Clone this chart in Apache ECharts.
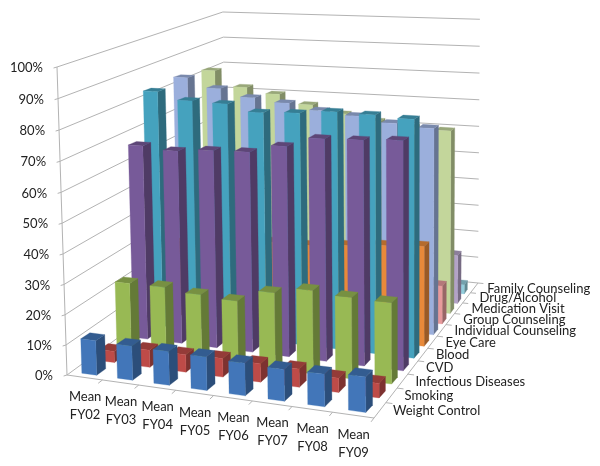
<!DOCTYPE html>
<html><head><meta charset="utf-8">
<style>html,body{margin:0;padding:0;background:#fff}#c{width:600px;height:466px}</style>
<script src="https://cdn.jsdelivr.net/npm/echarts@6/dist/echarts.min.js"></script>
</head><body><div id="c"></div>
<script>
const categories = ["Mean\nFY02","Mean\nFY03","Mean\nFY04","Mean\nFY05","Mean\nFY06","Mean\nFY07","Mean\nFY08","Mean\nFY09"];
const yTicks = [0,10,20,30,40,50,60,70,80,90,100];
const weightControl = [11.5,11.2,11,10.8,10.4,10,10.2,11];
const smoking = [3.8,5.8,5.8,6.1,6,5.9,4.6,4.6];
const infectiousDiseases = [23.2,23.2,22,21.2,25.3,27.4,26.4,26.1];
const cvd = [67.5,66.5,67.5,67.8,70.5,73.8,74.1,74.8];
const blood = [84,81.4,81,78.7,79.2,80.3,80,79.3];
const eyeCare = [27.5,28.6,29.8,31,31,32.2,33.4,34.3];
const individualCounseling = [85,81.7,79,77.7,75.7,74.5,72.7,71.7];
const groupCounseling = [13.6,13.6,13.1,13.1,13.1,13.6,13.6,13.6];
const medicationVisit = [83.9,78.2,76.2,72.9,70.2,68.2,66.7,66.2];
const drugAlcohol = [18,18,18,18,18,18,18,18];
const familyCounseling = [3.4,3.4,3.4,3.4,3.4,3.4,3.4,3.4];
const seriesNames = ["Weight Control","Smoking","Infectious Diseases","CVD","Blood","Eye Care","Individual Counseling","Group Counseling","Medication Visit","Drug/Alcohol","Family Counseling"];
const seriesValues = [weightControl,smoking,infectiousDiseases,cvd,blood,eyeCare,individualCounseling,groupCounseling,medicationVisit,drugAlcohol,familyCounseling];
const seriesColors = ["#4276B9","#BE4B48","#98B954","#775A99","#45A2BE","#E8893A","#9BAFDC","#E79A9C","#C3D69B","#B3A2C7","#92CDDC"];

// Camera calibration: where the corners of the 3D box land on the page.
const cam = {A:[67,375],B:[374,418],C:[478,283],D:[227,258],Atop:[57,67],Ctop:[488,22],Dtop:[226,10]};
const proj = (function(){
  const [x0,y0]=cam.A,[x1,y1]=cam.B,[x2,y2]=cam.C,[x3,y3]=cam.D;
  const dx1=x1-x2,dx2=x3-x2,sx=x0-x1+x2-x3,dy1=y1-y2,dy2=y3-y2,sy=y0-y1+y2-y3;
  const den=dx1*dy2-dx2*dy1;
  const g=(sx*dy2-dx2*sy)/den,h=(dx1*sy-sx*dy1)/den;
  const a=x1-x0+g*x1,b=x3-x0+h*x3,d=y1-y0+g*y1,e=y3-y0+h*y3;
  const fl=(u,v)=>[a*u+b*v+x0,d*u+e*v+y0,g*u+h*v+1];
  const C=fl(1,1),D=fl(0,1);
  const [ax,ay]=cam.Atop;
  const eqs=[[ay-cam.Ctop[1],cam.Ctop[1]*C[2]-C[1]-ay+y0],[ay-cam.Dtop[1],cam.Dtop[1]*D[2]-D[1]-ay+y0]];
  let n=0,m=0;eqs.forEach(q=>{n+=q[0]*q[1];m+=q[0]*q[0];});
  const w3=n/m,a3=ax*(1+w3)-x0,b3=ay*(1+w3)-y0;
  return (u,v,z)=>{const f=fl(u,v),W=f[2]+w3*z;return [(f[0]+a3*z)/W,(f[1]+b3*z)/W];};
})();
const P=proj;
// The bars stand on a floor that sits slightly inside the drawn walls (wall thickness).
const PB=(u,v,z)=>{const p=P(u,v,z);
  return [p[0]+4.5*v*(1-u)+u*(0.5+18*v*(1-v)),p[1]+5*v];};
const GRID={left:0,top:0,width:600,height:466};
const unitU=(api,c)=>(api.coord([c,0])[0]-GRID.left)/GRID.width;
const unitZ=(api,val)=>1-(api.coord([0,val])[1]-GRID.top)/GRID.height;
const rows=seriesNames.length,cats=categories.length;
const FONT='13px Lato, "Open Sans", sans-serif';
const LINE='#b3b3b3';
const BAR_W=0.42,BAR_D=0.5;

function shade(hex,f){const n=parseInt(hex.slice(1),16);
  const c=[n>>16,(n>>8)&255,n&255].map(v=>Math.round(v*f));
  return 'rgb('+c.join(',')+')';}
function seg(p,q,w){return {type:'line',silent:true,shape:{x1:p[0],y1:p[1],x2:q[0],y2:q[1]},style:{stroke:LINE,lineWidth:w||1}};}
function poly(pts,fill){return {type:'polygon',shape:{points:pts},style:{fill:fill,stroke:fill,lineWidth:0.3}};}

function barItem(row,color){return function(params,api){
  const c=api.value(0),val=api.value(1);
  const uc=unitU(api,c),z=unitZ(api,val);
  const hw=BAR_W/cats/2,hd=BAR_D/rows/2,vc=(row+0.5)/rows;
  const u0=uc-hw,u1=uc+hw,v0=vc-hd,v1=vc+hd;
  const a=PB(u0,v0,0),b=PB(u1,v0,0),e=PB(u1,v1,0),at=PB(u0,v0,z),bt=PB(u1,v0,z),et=PB(u1,v1,z),dt=PB(u0,v1,z);
  return {type:'group',children:[
    poly([b,e,et,bt],shade(color,0.66)),
    poly([at,bt,et,dt],shade(color,0.78)),
    poly([a,b,bt,at],color)]};
};}
const bars=[];
for(let r=rows-1;r>=0;r--){
  bars.push({type:'custom',name:seriesNames[r],coordinateSystem:'cartesian2d',clip:false,z:5,
    data:seriesValues[r].map((v,i)=>[i,v]),renderItem:barItem(r,seriesColors[r]),
    encode:{x:0,y:1}});
}
const wallSeries={type:'custom',coordinateSystem:'cartesian2d',clip:false,z:1,silent:true,
  data:yTicks.map(t=>[0,t]),encode:{x:0,y:1},
  renderItem(params,api){
    const t=api.value(1),z=unitZ(api,t);
    const a=P(0,0,z),d=P(0,1,z),c=P(1,1,z),k=P(-0.012,0,z);
    const ch=[seg(a,d),seg(d,c),seg(a,[k[0],a[1]+1]),
      {type:'text',silent:true,style:{text:t+'%',x:a[0]-14,y:a[1]+1,align:'right',verticalAlign:'middle',font:FONT,fill:'#222'}}];
    if(t===0){ch.push(seg(a,P(1,0,0)),seg(P(1,0,0),P(1,1,0)),seg(a,P(0,0,1)));}
    return {type:'group',children:ch};
  }};
const catSeries={type:'custom',coordinateSystem:'cartesian2d',clip:false,z:2,silent:true,
  data:categories.map((n,i)=>[i,0,n]),encode:{x:0,y:1},
  renderItem(params,api){
    const c=api.value(0),uc=unitU(api,c),p=P(uc,0,0);
    const u1=uc+0.5/cats,t0=P(u1,0,0),t1=P(u1,-0.022,0);
    return {type:'group',children:[
      seg(t0,t1),
      {type:'text',silent:true,style:{text:categories[c],x:p[0]+0.5,y:p[1]+28.5,align:'center',verticalAlign:'middle',lineHeight:18,font:FONT,fill:'#222'}}]};
  }};
const depthSeries={type:'custom',coordinateSystem:'cartesian2d',clip:false,z:2,silent:true,
  data:seriesNames.map((n,i)=>[0,0,i]),encode:{x:0,y:1},
  renderItem(params,api){
    const r=api.value(2),p=P(1,(r+0.5)/rows,0);
    const v1=(r+1)/rows,t0=P(1,v1,0),t1=P(1.02,v1,0);
    return {type:'group',children:[
      seg(t0,t1),
      {type:'text',silent:true,style:{text:seriesNames[r],x:p[0]+13,y:p[1]+0.5,align:'left',verticalAlign:'middle',font:FONT,fill:'#222'}}]};
  }};
const chart=echarts.init(document.getElementById('c'),null,{renderer:'canvas'});
chart.setOption({animation:false,backgroundColor:'#fff',tooltip:{show:false},
  grid:Object.assign({containLabel:false},GRID),
  xAxis:{type:'category',data:categories,show:false,boundaryGap:true},
  yAxis:{type:'value',min:0,max:100,interval:10,show:false},
  series:[wallSeries,catSeries,depthSeries].concat(bars)});
</script></body></html>
